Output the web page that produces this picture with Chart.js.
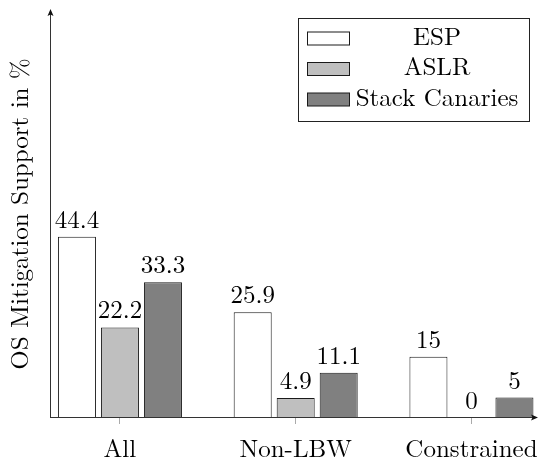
<!DOCTYPE html>
<html>
<head>
<meta charset="utf-8">
<script src="https://cdn.jsdelivr.net/npm/chart.js@4"></script>
<style>
	html, body {
		margin: 0;
		padding: 0;
		background: #ffffff;
	}
	canvas {
		display: block;
	}
</style>
</head>
<body>
<canvas id="chart" width="542" height="462"></canvas>
<script>
const categories = ["All", "Non-LBW", "Constrained"]
const series_labels = ["ESP", "ASLR", "Stack Canaries"]
const esp_values = [44.4, 25.9, 15]
const aslr_values = [22.2, 4.9, 0]
const canary_values = [33.3, 11.1, 5]
const y_title = "OS Mitigation Support in %"

const serif = "'Latin Modern Roman', 'Liberation Serif', serif"
const text_size = 25
const text_color = "#000000"
const edge_color = "#1a1a1a"

/**
 * Turn one series into {x, y} points on the numeric category axis
 */
function to_points(values) {
	return values.map((v, i) => ({ x: i, y: v }))
}

function make_dataset(label, values, fill) {
	return {
		label,
		data: to_points(values),
		backgroundColor: fill,
		borderColor: edge_color,
		borderWidth: 1,
		borderSkipped: false,
		inflateAmount: 0,
		categoryPercentage: 0.734,
		barPercentage: 0.884
	}
}

/**
 * Axis lines with arrow heads, pgfplots style
 */
const axis_arrows = {
	id: "axis_arrows",
	afterDraw(chart) {
		const { ctx, chartArea } = chart
		const left = chartArea.left + 0.5
		const bottom = chartArea.bottom - 0.5

		ctx.save()
		ctx.strokeStyle = "#333333"
		ctx.fillStyle = "#111111"
		ctx.lineWidth = 1

		ctx.beginPath()
		ctx.moveTo(left, chartArea.bottom)
		ctx.lineTo(left, chartArea.top + 4)
		ctx.moveTo(chartArea.left, bottom)
		ctx.lineTo(chartArea.right - 4, bottom)
		ctx.stroke()

		// y arrow head
		ctx.beginPath()
		ctx.moveTo(left, chartArea.top - 1)
		ctx.lineTo(left - 3, chartArea.top + 6)
		ctx.lineTo(left, chartArea.top + 4.5)
		ctx.lineTo(left + 3, chartArea.top + 6)
		ctx.closePath()
		ctx.fill()

		// x arrow head
		ctx.beginPath()
		ctx.moveTo(chartArea.right + 1, bottom)
		ctx.lineTo(chartArea.right - 6, bottom - 3)
		ctx.lineTo(chartArea.right - 4.5, bottom)
		ctx.lineTo(chartArea.right - 6, bottom + 3)
		ctx.closePath()
		ctx.fill()
		ctx.restore()
	}
}

/**
 * Value labels above every bar
 */
const bar_values = {
	id: "bar_values",
	afterDatasetsDraw(chart) {
		const { ctx } = chart
		ctx.save()
		ctx.font = text_size + "px " + serif
		ctx.fillStyle = text_color
		ctx.textAlign = "center"
		ctx.textBaseline = "alphabetic"

		chart.data.datasets.forEach((ds, di) => {
			const meta = chart.getDatasetMeta(di)
			meta.data.forEach((bar, i) => {
				ctx.fillText(String(ds.data[i].y), bar.x, bar.y - 9)
			})
		})
		ctx.restore()
	}
}

/**
 * Boxed legend: swatch on the left, centred label text
 */
const box_legend = {
	id: "box_legend",
	afterDraw(chart) {
		const { ctx } = chart
		const box = { x: 298.5, y: 18.5, w: 231, h: 103 }

		ctx.save()
		ctx.fillStyle = "#ffffff"
		ctx.fillRect(box.x, box.y, box.w, box.h)
		ctx.strokeStyle = "#222222"
		ctx.lineWidth = 1
		ctx.strokeRect(box.x, box.y, box.w, box.h)

		ctx.font = text_size + "px " + serif
		ctx.textAlign = "center"
		ctx.textBaseline = "alphabetic"

		chart.data.datasets.forEach((ds, i) => {
			const cy = 38.5 + i * 30.5
			ctx.fillStyle = ds.backgroundColor
			ctx.fillRect(307.5, cy - 6.5, 42, 13)
			ctx.strokeStyle = ds.borderColor
			ctx.strokeRect(307.5, cy - 6.5, 42, 13)

			ctx.fillStyle = text_color
			ctx.fillText(ds.label, 437, cy + 6)
		})
		ctx.restore()
	}
}

new Chart(document.getElementById("chart"), {
	type: "bar",
	data: {
		datasets: [
			make_dataset(series_labels[0], esp_values, "#ffffff"),
			make_dataset(series_labels[1], aslr_values, "#bfbfbf"),
			make_dataset(series_labels[2], canary_values, "#808080")
		]
	},
	options: {
		responsive: false,
		animation: false,
		layout: {
			padding: { top: 10, right: 5, left: 0, bottom: 0 }
		},
		plugins: {
			legend: { display: false },
			tooltip: { enabled: false }
		},
		scales: {
			x: {
				type: "linear",
				min: -0.398,
				max: 2.373,
				offset: false,
				bounds: "data",
				afterBuildTicks(scale) {
					scale.ticks = categories.map((c, i) => ({ value: i }))
				},
				afterFit(scale) {
					// keep the plot area fixed, labels may run to the edge
					scale.height = 44
					scale.paddingLeft = 0
					scale.paddingRight = 0
				},
				border: { display: false },
				grid: {
					offset: false,
					drawOnChartArea: false,
					drawTicks: true,
					tickLength: 6,
					tickColor: "#aaaaaa"
				},
				ticks: {
					padding: 10,
					color: text_color,
					font: { family: serif, size: text_size },
					maxRotation: 0,
					autoSkip: false,
					callback: value => categories[value]
				}
			},
			y: {
				min: 0,
				max: 100,
				afterFit(scale) {
					scale.width = 50
					scale.paddingTop = 0
					scale.paddingBottom = 0
				},
				border: { display: false },
				grid: { display: false },
				ticks: { display: false },
				title: {
					display: true,
					text: y_title,
					color: text_color,
					font: { family: serif, size: text_size },
					padding: { top: 5, bottom: 0 }
				}
			}
		}
	},
	plugins: [axis_arrows, bar_values, box_legend]
})
</script>
</body>
</html>
